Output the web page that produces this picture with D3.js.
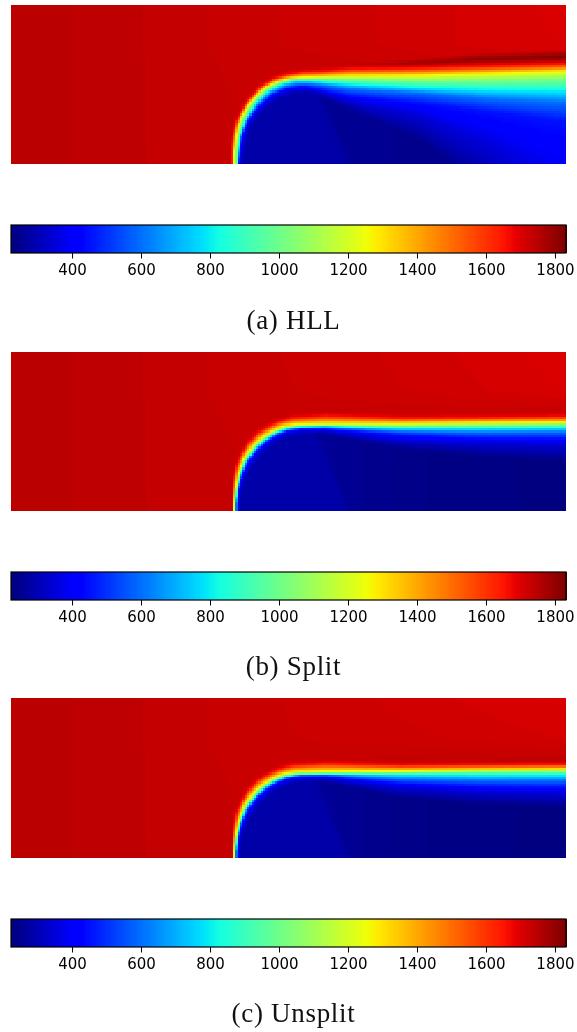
<!DOCTYPE html>
<html><head><meta charset="utf-8">
<script src="https://cdn.jsdelivr.net/npm/d3@7"></script>
<style>html,body{margin:0;padding:0;background:#fff}#wrap{position:relative;width:577px;height:1032px;overflow:hidden}canvas,svg{position:absolute;left:0;top:0}</style>
</head><body><div id="wrap"></div>
<script>
// colour bar
const cbTicks=[400,600,800,1000,1200,1400,1600,1800];
const tempDomain=[223,1832];
const captions=["(a) HLL","(b) Split","(c) Unsplit"];
// jet colormap anchors
const jetR=[[0,0],[.35,0],[.66,1],[.89,1],[1,.5]];
const jetG=[[0,0],[.125,0],[.375,1],[.64,1],[.91,0],[1,0]];
const jetB=[[0,.5],[.11,1],[.34,1],[.65,0],[1,0]];
// isotherm temperatures (hot to cold); first and last sides are the hot and cold fields
const isoT=[1655,1250,1000,800,600,450,350];
// field coordinates: x 0..555, y 0..159; 13 stations along the front
const a1655=[[219,158],[221.7,131.7],[225.7,115],[235.7,96.7],[249,82.3],[262.3,74],[275.7,69.7],[292.3,67],[309,66.5],[339,64],[409,63],[479,61],[555,59]];
const a1250=[[221.7,158],[225,131.7],[229,115],[238.3,98.3],[252.3,84],[265.7,77],[279,73.7],[292.3,72.7],[309,72.3],[339,71.5],[409,71],[479,69],[555,66.5]];
const a1000=[[224.3,158],[227.3,131.7],[232.3,115],[242.3,98.3],[255.7,85],[269,77.7],[282.3,74.3],[295,74],[309,74],[339,75],[409,76.5],[479,76.5],[555,75.5]];
const a800=[[225.7,158],[229,131.7],[234.3,115],[245,98.3],[258.3,85.7],[271.7,79],[284,76],[296,76],[309,77],[339,79.5],[409,83],[479,85],[555,86]];
const a600=[[226.7,158],[230,131.7],[235.7,115],[247,99.7],[260.3,87.7],[273.7,81.7],[286.3,79],[296,79],[309,80],[339,84],[409,88],[479,94],[555,98]];
const a450=[[227.7,158],[231,131.7],[237.3,115],[249,100.3],[262.3,89],[275.7,83.3],[289,81.7],[296,81.7],[309,84.3],[339,91],[409,98],[479,107],[555,117]];
const a350=[[229,158],[233,131.7],[239.7,115],[251.7,101.7],[265,91],[278.3,85.7],[291.7,84.3],[296,84.5],[309,87],[339,96],[409,110],[479,140],[555,190]];
const aCold=[[232,158],[236,133],[243,117],[255,104],[268,94],[281,89],[294,87.5],[300,88],[309,91],[339,105],[409,135],[479,190],[555,300]];

const b1655=[[221.3,159],[222,136],[224,118],[229,105],[237,91],[247,81],[257,75],[267,70],[281,66],[314,64],[389,66],[469,65.5],[555,64.5]];
const b1250=[[222.5,159],[224.7,136],[227.8,121],[232.5,107],[242,94],[252,85],[262,79],[272,74.5],[286,72.5],[314,72],[389,72],[469,71],[555,70.7]];
const b1000=[[223.3,159],[225.7,136],[229,121],[234,108],[244,95],[254,86],[264,80],[274,76],[287,74],[314,73.7],[389,74.5],[469,74],[555,73]];
const b800=[[224,159],[226.4,136],[229.8,121.5],[235,108.5],[245,96],[255,87],[265,81],[275,77],[288,75],[314,74.5],[389,76.5],[469,76.5],[555,76]];
const b600=[[224.7,159],[227,136.5],[230.6,122],[236,109],[246,97],[256,88],[266,82],[276,78],[289,76],[314,75.5],[389,79.5],[469,80.5],[555,80]];
const b450=[[225.5,159],[227.8,137],[231.4,122.5],[237,110],[247,98],[257,89],[267,83],[277,79],[290,77],[314,77],[389,83],[469,86],[555,86.5]];
const b350=[[226.5,159],[229,138],[233,124],[239,112],[249,100],[259,91],[269,85],[279,81],[292,79],[314,79],[389,88],[469,91],[555,92]];
const bCold=[[228,159],[231,140],[235,127],[241,115],[251,103],[261,94],[271,88],[281,84],[294,82],[314,82],[389,97],[469,105],[555,110]];

const c1655=[[221.3,160],[222,137],[224,119],[229,106],[237,92],[247,82],[257,76],[267,71],[281,67],[314,65],[389,67],[469,66.5],[555,66]];
const c1250=[[222.5,160],[224.7,137],[227.8,122],[232.5,108],[242,95],[252,86],[262,80],[272,75.5],[286,73.5],[314,73],[389,72.5],[469,71.5],[555,71]];
const c1000=[[223.3,160],[225.7,137],[229,122],[234,109],[244,96],[254,87],[264,81],[274,77],[287,75],[314,74.7],[389,74.5],[469,73.5],[555,73]];
const c800=[[224,160],[226.4,137],[229.8,122.5],[235,109.5],[245,97],[255,88],[265,82],[275,78],[288,76],[314,75.5],[389,76.5],[469,77],[555,77]];
const c600=[[224.7,160],[227,137.5],[230.6,123],[236,110],[246,98],[256,89],[266,83],[276,79],[289,77],[314,76.5],[389,80.5],[469,82],[555,82]];
const c450=[[225.5,160],[227.8,138],[231.4,123.5],[237,111],[247,99],[257,90],[267,84],[277,80],[290,78],[314,78],[389,85],[469,88],[555,89]];
const c350=[[226.5,160],[229,139],[233,125],[239,113],[249,101],[259,92],[269,86],[279,82],[292,80],[314,80],[389,89],[469,93],[555,94]];
const cCold=[[228,160],[231,141],[235,128],[241,116],[251,104],[261,95],[271,89],[281,85],[294,83],[314,83],[389,99],[469,106],[555,110]];

// outward shift of the hot-field edge from the 1655 isotherm, per station
const edgeDx=[2,2,2,2,2,2,1,1,0,0,0,0,0];
const edgeDy=[0,0,1,2,3,3,4,4,4,4,4,4,4];

// hot field table
const hotXs=[0,60,130,240,340,450,555];
const hotYs=[0,40,65,159];
const aHot=[[1748,1744,1738,1727,1721,1712,1704],[1748,1744,1738,1727,1721,1712,1706],[1748,1744,1738,1729,1729,1725,1715],[1748,1744,1738,1733,1733,1733,1733]];
const bHot=[[1748,1744,1738,1727,1721,1712,1702],[1748,1744,1738,1727,1723,1715,1706],[1748,1744,1738,1729,1730,1733,1735],[1748,1744,1738,1733,1733,1733,1733]];
const cHot=[[1748,1744,1738,1727,1721,1712,1704],[1748,1744,1738,1727,1723,1718,1712],[1748,1744,1738,1729,1733,1740,1745],[1748,1744,1738,1733,1733,1733,1733]];
// streak above the front in the HLL panel
const streakX=[320,389,469,555];
const streakY=[61,59,54,51.7];
const streakT=[1735,1770,1805,1828];
const streakW=[2,4,6,7];
// cold field
const coldEdgeY=[70,159], coldEdgeX=[300,337];
const coldIn=285;
const coldOutX=[320,409,555];
const aColdOut=[255,245,240], bColdOut=[255,236,226], cColdOut=[255,236,226];

const panels=[
 {top:5,bottom:164,cbTop:225,cbBottom:253,capY:328.5,levels:[a1655,a1250,a1000,a800,a600,a450,a350,aCold],hot:aHot,coldOut:aColdOut,streak:true},
 {top:352,bottom:511,cbTop:572,cbBottom:600,capY:675,levels:[b1655,b1250,b1000,b800,b600,b450,b350,bCold],hot:bHot,coldOut:bColdOut},
 {top:698,bottom:858,cbTop:919,cbBottom:947,capY:1021.5,levels:[c1655,c1250,c1000,c800,c600,c450,c350,cCold],hot:cHot,coldOut:cColdOut}
];

const L=11,R=566,COLS=240,ROWS=69;
const ch=a=>d3.scaleLinear(a.map(d=>d[0]),a.map(d=>d[1]));
const jr=ch(jetR),jg=ch(jetG),jb=ch(jetB);
const tNorm=d3.scaleLinear().domain(tempDomain).range([0,1]).clamp(true);
function jet(T){const i=Math.min(255,Math.floor(tNorm(T)*256))/255;
  return `rgb(${Math.round(jr(i)*255)},${Math.round(jg(i)*255)},${Math.round(jb(i)*255)})`;}
const wrap=d3.select("#wrap");
const canvas=wrap.append("canvas").attr("width",577).attr("height",1032);
const ctx=canvas.node().getContext("2d");
const svg=wrap.append("svg").attr("width",577).attr("height",1032);
const fieldX=d3.scaleLinear().domain([0,555]).range([L,R]);
const cellX=d3.scaleLinear().domain([0,COLS]).range([0,555]);
const cellY=d3.scaleLinear().domain([0,ROWS]).range([0,159]);
const streakYS=d3.scaleLinear(streakX,streakY).clamp(true),streakTS=d3.scaleLinear(streakX,streakT).clamp(true),streakWS=d3.scaleLinear(streakX,streakW).clamp(true);
const edgeXS=d3.scaleLinear(coldEdgeY,coldEdgeX);

panels.forEach(p=>{
  const fieldY=d3.scaleLinear().domain([0,159]).range([p.top,p.bottom]);
  const edge=p.levels[0].map((d,i)=>[d[0]-edgeDx[i],d[1]-edgeDy[i]]);
  const curves=[edge,...p.levels].map(pts=>{
    const f=d3.scaleLinear(pts.map(d=>d[0]),pts.map(d=>d[1])).clamp(true),x0=pts[0][0];
    return x=>x<x0?Infinity:f(x);
  });
  const rowF=p.hot.map(r=>d3.scaleLinear(hotXs,r));
  const coldOutS=d3.scaleLinear(coldOutX,p.coldOut).clamp(true);
  const hot=(x,y)=>{
    let h=d3.scaleLinear(hotYs,rowF.map(f=>f(x))).clamp(true)(y);
    if(p.streak&&x>=streakX[0]){
      const u=Math.abs(y-streakYS(x))/streakWS(x);
      if(u<1){const pk=streakTS(x);if(pk>h)h=h+(pk-h)*(1-u);}
    }
    return h;
  };
  const cold=(x,y)=>{
    const e=edgeXS(y),o=coldOutS(x);
    if(x<e-6)return coldIn; if(x>e+6)return o;
    return coldIn+(o-coldIn)*(x-e+6)/12;
  };
  for(let i=0;i<COLS;i++){
    const x=cellX(i+.5),ys=curves.map(f=>f(x));
    const px0=Math.round(fieldX(cellX(i))),px1=Math.round(fieldX(cellX(i+1)));
    for(let j=0;j<ROWS;j++){
      const y=cellY(j+.5);
      const Ts=[hot(x,y),...isoT,cold(x,y)];
      let k=ys.findIndex(v=>y<v),T;
      if(k===0)T=Ts[0];
      else if(k<0)T=Ts[Ts.length-1];
      else{const a=ys[k-1],b=ys[k];T=isFinite(b)&&b>a?Ts[k-1]+(Ts[k]-Ts[k-1])*(y-a)/(b-a):Ts[k-1];}
      ctx.fillStyle=jet(T);
      const py0=Math.round(fieldY(cellY(j))),py1=Math.round(fieldY(cellY(j+1)));
      ctx.fillRect(px0,py0,px1-px0,py1-py0);
    }
  }
  // colour bar
  const cbX=d3.scaleLinear().domain(tempDomain).range([L,R]);
  const g=svg.append("g");
  const cb=d3.range(256).map(i=>tempDomain[0]+(tempDomain[1]-tempDomain[0])*i/256);
  const bw=(R-L)/256;
  g.selectAll("rect.c").data(cb).join("rect").attr("class","c")
    .attr("x",d=>cbX(d)).attr("width",bw+1).attr("y",p.cbTop).attr("height",p.cbBottom-p.cbTop)
    .attr("shape-rendering","crispEdges").attr("fill",d=>jet(d+1));
  g.append("rect").attr("x",L).attr("y",p.cbTop).attr("width",R-L).attr("height",p.cbBottom-p.cbTop)
    .attr("fill","none").attr("stroke","#000").attr("stroke-width",1.2);
  const ax=g.append("g").attr("transform",`translate(0,${p.cbBottom})`)
    .call(d3.axisBottom(cbX).tickValues(cbTicks).tickSize(5.5).tickPadding(5).tickFormat(d3.format("d")));
  ax.select(".domain").remove();
  ax.selectAll("line").attr("stroke","#000").attr("stroke-width",1);
  ax.selectAll("text").attr("font-family","'DejaVu Sans'").attr("font-size",15).attr("fill","#000").attr("y",11).attr("dy","0.71em");
});
svg.selectAll("text.cap").data(panels).join("text").attr("class","cap")
  .attr("x",293.5).attr("y",d=>d.capY).attr("text-anchor","middle")
  .attr("font-family","'Liberation Serif'").attr("font-size",27).attr("letter-spacing",.7).attr("fill","#111")
  .text((d,i)=>captions[i]);
</script></body></html>
